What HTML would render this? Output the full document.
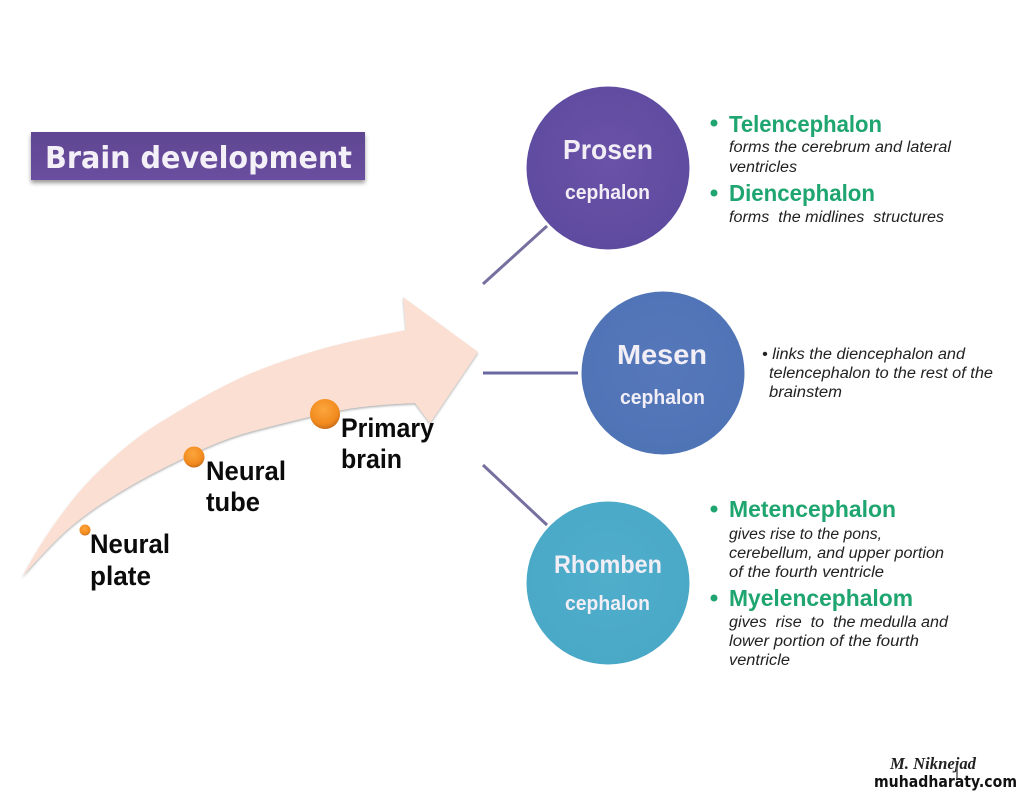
<!DOCTYPE html>
<html>
<head>
<meta charset="utf-8">
<style>
html,body{margin:0;padding:0;background:#fff;width:1024px;height:794px;overflow:hidden}
svg{display:block}
text{font-family:"Liberation Sans",sans-serif}
.w{font-weight:bold;fill:#f2eef6}
.b{font-weight:bold;fill:#0b0b0b;font-size:27px}
.g{font-weight:bold;fill:#1fa56f;font-size:23px}
.i{font-style:italic;fill:#222;font-size:15.5px}
</style>
</head>
<body>
<svg width="1024" height="794" viewBox="0 0 1024 794" xmlns="http://www.w3.org/2000/svg">
<defs>
<linearGradient id="t" x1="0" y1="0" x2="0" y2="1">
<stop offset="0" stop-color="#5f4591"/><stop offset="1" stop-color="#6a4fa0"/>
</linearGradient>
<radialGradient id="o" cx="0.45" cy="0.35" r="0.7">
<stop offset="0" stop-color="#fba63c"/><stop offset="0.7" stop-color="#f28a1e"/><stop offset="1" stop-color="#b9651a"/>
</radialGradient>
<radialGradient id="p" cx="0.5" cy="0.45" r="0.6">
<stop offset="0" stop-color="#6a52a8"/><stop offset="1" stop-color="#5d4a9e"/>
</radialGradient>
<radialGradient id="m" cx="0.5" cy="0.45" r="0.6">
<stop offset="0" stop-color="#5678bb"/><stop offset="1" stop-color="#4e73b5"/>
</radialGradient>
<radialGradient id="r" cx="0.5" cy="0.45" r="0.6">
<stop offset="0" stop-color="#50aecb"/><stop offset="1" stop-color="#48a8c6"/>
</radialGradient>
<filter id="s" x="-5%" y="-20%" width="110%" height="150%"><feDropShadow dx="0" dy="3" stdDeviation="2" flood-color="#000" flood-opacity=".4"/></filter>
<filter id="a" x="-5%" y="-5%" width="110%" height="115%"><feDropShadow dx="0" dy="1.5" stdDeviation="1" flood-color="#555" flood-opacity=".45"/></filter>
</defs>

<!-- title -->
<rect x="31" y="132" width="334" height="48" fill="url(#t)" filter="url(#s)"/>
<text x="45" y="168" font-size="30" font-weight="bold" textLength="307" lengthAdjust="spacingAndGlyphs" style="fill:#f4f0f8;font-family:'DejaVu Sans',sans-serif">Brain development</text>

<!-- arrow -->
<path d="M22 577 L32.5 558.5 Q43 540 60 516.5 Q77 493 93.5 476.5 Q110 460 126.5 446.5 Q143 433 160 422.5 Q177 412 193.5 402.5 Q210 393 230 383 Q250 373 275 364 Q300 355 325 348 Q350 341 406 330 L403 297 L478 352 L430 423 L415 403 Q370 405 347.5 409 Q325 413 302.5 418.5 Q280 424 255 430.5 Q230 437 206.5 447.5 Q183 458 155 472.5 Q127 487 102 503.5 Q77 520 60 536.5 Q43 553 22 577Z" fill="#fbdfd3" filter="url(#a)"/>

<!-- dots -->
<circle cx="85" cy="530" r="5.5" fill="url(#o)"/>
<circle cx="194" cy="457" r="10.5" fill="url(#o)"/>
<circle cx="325" cy="414" r="15" fill="url(#o)"/>

<!-- arrow labels -->
<text x="90" y="553" class="b" textLength="80" lengthAdjust="spacingAndGlyphs">Neural</text>
<text x="90" y="585" class="b" textLength="61" lengthAdjust="spacingAndGlyphs">plate</text>
<text x="206" y="480" class="b" textLength="80" lengthAdjust="spacingAndGlyphs">Neural</text>
<text x="206" y="511" class="b" textLength="54" lengthAdjust="spacingAndGlyphs">tube</text>
<text x="341" y="437" class="b" textLength="93" lengthAdjust="spacingAndGlyphs">Primary</text>
<text x="341" y="468" class="b" textLength="61" lengthAdjust="spacingAndGlyphs">brain</text>

<!-- connectors -->
<line x1="483" y1="284" x2="547" y2="226" stroke="#75709f" stroke-width="3"/>
<line x1="483" y1="373" x2="578" y2="373" stroke="#6a68a3" stroke-width="3"/>
<line x1="483" y1="465" x2="547" y2="525" stroke="#75709f" stroke-width="3"/>

<!-- circles -->
<circle cx="608" cy="168" r="81.5" fill="url(#p)"/>
<circle cx="663" cy="373" r="81.5" fill="url(#m)"/>
<circle cx="608" cy="583" r="81.5" fill="url(#r)"/>

<text x="563" y="159" class="w" font-size="28" textLength="90" lengthAdjust="spacingAndGlyphs">Prosen</text>
<text x="565" y="199" class="w" font-size="20" textLength="85" lengthAdjust="spacingAndGlyphs">cephalon</text>
<text x="617" y="364" class="w" font-size="28" textLength="90" lengthAdjust="spacingAndGlyphs">Mesen</text>
<text x="620" y="404" class="w" font-size="20" textLength="85" lengthAdjust="spacingAndGlyphs">cephalon</text>
<text x="554" y="573" class="w" font-size="25" textLength="108" lengthAdjust="spacingAndGlyphs">Rhomben</text>
<text x="565" y="610" class="w" font-size="20" textLength="85" lengthAdjust="spacingAndGlyphs">cephalon</text>

<!-- top text -->
<circle cx="714" cy="123" r="3.5" fill="#1fa56f"/>
<text x="729" y="132" class="g" textLength="153" lengthAdjust="spacingAndGlyphs">Telencephalon</text>
<text x="729" y="152" class="i" textLength="222" lengthAdjust="spacingAndGlyphs">forms the cerebrum and lateral</text>
<text x="729" y="172" class="i" textLength="68" lengthAdjust="spacingAndGlyphs">ventricles</text>
<circle cx="714" cy="193" r="3.5" fill="#1fa56f"/>
<text x="729" y="201" class="g" textLength="146" lengthAdjust="spacingAndGlyphs">Diencephalon</text>
<text x="729" y="222" class="i" xml:space="preserve" textLength="215" lengthAdjust="spacingAndGlyphs">forms  the midlines  structures</text>

<!-- middle text -->
<text x="762" y="359" class="i" textLength="203" lengthAdjust="spacingAndGlyphs">• links the diencephalon and</text>
<text x="769" y="378" class="i" textLength="224" lengthAdjust="spacingAndGlyphs">telencephalon to the rest of the</text>
<text x="769" y="397" class="i" textLength="73" lengthAdjust="spacingAndGlyphs">brainstem</text>

<!-- bottom text -->
<circle cx="714" cy="509" r="3.5" fill="#1fa56f"/>
<text x="729" y="517" class="g" textLength="167" lengthAdjust="spacingAndGlyphs">Metencephalon</text>
<text x="729" y="539" class="i" textLength="153" lengthAdjust="spacingAndGlyphs">gives rise to the pons,</text>
<text x="729" y="558" class="i" textLength="215" lengthAdjust="spacingAndGlyphs">cerebellum, and upper portion</text>
<text x="729" y="577" class="i" textLength="155" lengthAdjust="spacingAndGlyphs">of the fourth ventricle</text>
<circle cx="714" cy="598" r="3.5" fill="#1fa56f"/>
<text x="729" y="606" class="g" textLength="184" lengthAdjust="spacingAndGlyphs">Myelencephalom</text>
<text x="729" y="627" class="i" xml:space="preserve" textLength="219" lengthAdjust="spacingAndGlyphs">gives  rise  to  the medulla and</text>
<text x="729" y="646" class="i" textLength="190" lengthAdjust="spacingAndGlyphs">lower portion of the fourth</text>
<text x="729" y="665" class="i" textLength="61" lengthAdjust="spacingAndGlyphs">ventricle</text>

<!-- footer -->
<text x="890" y="769" font-size="17" font-weight="bold" font-style="italic" fill="#222" textLength="86" lengthAdjust="spacingAndGlyphs" style="font-family:'Liberation Serif',serif">M. Niknejad</text>
<line x1="957" y1="765" x2="957" y2="778" stroke="#555" stroke-width="1.5"/>
<text x="874" y="787" font-size="16" font-weight="bold" fill="#111" textLength="143" lengthAdjust="spacingAndGlyphs" style="font-family:'DejaVu Sans',sans-serif">muhadharaty.com</text>
</svg>
</body>
</html>
